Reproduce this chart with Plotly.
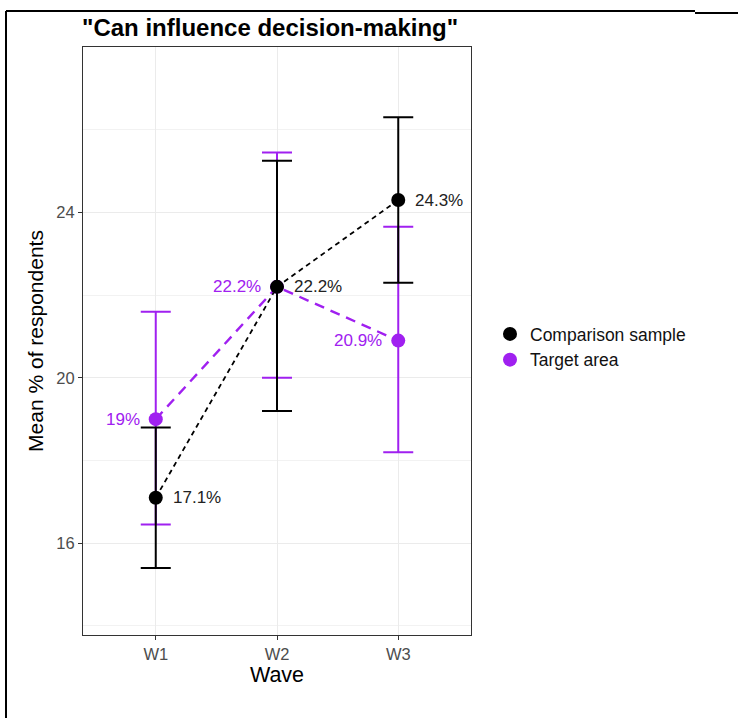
import plotly.graph_objects as go

waves = ["W1", "W2", "W3"]

comp_mean = [17.1, 22.2, 24.3]
comp_upper = [18.8, 25.25, 26.3]
comp_lower = [15.4, 19.2, 22.3]

target_mean = [19.0, 22.2, 20.9]
target_upper = [21.6, 25.45, 23.65]
target_lower = [16.45, 20.0, 18.2]

comp_labels = ["17.1%", "22.2%", "24.3%"]
target_labels = ["19%", "22.2%", "20.9%"]

BLACK = "#000000"
PURPLE = "#A020F0"
FONT = "Liberation Sans, Arial, sans-serif"

W, H = 738, 718
L, R, T, B = 83, 471, 47, 635  # plot panel in pixels


def px_x(x):
    return (x - L) / (R - L)


def px_y(y):
    return (B - y) / (B - T)


def err(mean, up, lo):
    return dict(
        type="data",
        symmetric=False,
        array=[u - m for u, m in zip(up, mean)],
        arrayminus=[m - l for m, l in zip(mean, lo)],
    )


fig = go.Figure()

# connecting dashed lines
fig.add_trace(go.Scatter(
    x=waves, y=target_mean, mode="lines", showlegend=False, hoverinfo="skip",
    line=dict(color=PURPLE, width=2.4, dash="10px,7px"),
))
fig.add_trace(go.Scatter(
    x=waves, y=comp_mean, mode="lines", showlegend=False, hoverinfo="skip",
    line=dict(color=BLACK, width=1.8, dash="5px,4px"),
))

# points with error bars
fig.add_trace(go.Scatter(
    x=waves, y=target_mean, mode="markers", showlegend=False,
    marker=dict(color=PURPLE, size=14),
    error_y=dict(err(target_mean, target_upper, target_lower), color=PURPLE, thickness=2, width=15),
))
fig.add_trace(go.Scatter(
    x=waves, y=comp_mean, mode="markers", showlegend=False,
    marker=dict(color=BLACK, size=14),
    error_y=dict(err(comp_mean, comp_upper, comp_lower), color=BLACK, thickness=2, width=15),
))

# value labels beside the points
annotations = []
for w, v, t in zip(waves, target_mean, target_labels):
    annotations.append(dict(
        x=w, y=v, xref="x", yref="y", text=t, showarrow=False,
        xanchor="right", yanchor="middle", xshift=-14,
        font=dict(color=PURPLE, size=17, family=FONT),
    ))
for w, v, t in zip(waves, comp_mean, comp_labels):
    annotations.append(dict(
        x=w, y=v, xref="x", yref="y", text=t, showarrow=False,
        xanchor="left", yanchor="middle", xshift=15,
        font=dict(color="#222222", size=17, family=FONT),
    ))

# legend entries
fig.add_trace(go.Scatter(
    x=[None], y=[None], mode="markers", name="Comparison sample",
    marker=dict(color=BLACK, size=14),
))
fig.add_trace(go.Scatter(
    x=[None], y=[None], mode="markers", name="Target area",
    marker=dict(color=PURPLE, size=14),
))

# frame lines around the figure
shapes = [
    dict(type="line", xref="paper", yref="paper",
         x0=px_x(6), x1=px_x(6), y0=px_y(11), y1=px_y(720),
         line=dict(color=BLACK, width=2)),
    dict(type="line", xref="paper", yref="paper",
         x0=px_x(6), x1=px_x(695), y0=px_y(11), y1=px_y(11),
         line=dict(color=BLACK, width=2)),
    dict(type="line", xref="paper", yref="paper",
         x0=px_x(695), x1=px_x(740), y0=px_y(13), y1=px_y(13),
         line=dict(color=BLACK, width=2)),
]

fig.update_layout(
    width=W, height=H,
    margin=dict(l=L, r=W - R, t=T, b=H - B),
    paper_bgcolor="white", plot_bgcolor="white",
    font=dict(family=FONT, size=16, color="#000000"),
    title=dict(
        text='<b>"Can influence decision-making"</b>',
        x=82 / W, xref="container", xanchor="left",
        y=1 - 28 / H, yref="container", yanchor="middle",
        font=dict(size=24, color="#000000", family=FONT),
    ),
    showlegend=True,
    legend=dict(
        x=px_x(490), y=px_y(347), xanchor="left", yanchor="middle",
        font=dict(size=17.5, color="#111111", family=FONT),
        bgcolor="rgba(0,0,0,0)", tracegroupgap=0,
    ),
    shapes=shapes,
    annotations=annotations,
)

fig.update_xaxes(
    type="category", range=[-0.6, 2.6],
    showline=True, mirror=True, linecolor="#333333", linewidth=1,
    showgrid=True, gridcolor="#EBEBEB", gridwidth=1,
    ticks="outside", ticklen=4, tickcolor="#333333",
    tickfont=dict(size=16.5, color="#4D4D4D"),
    title=dict(text="Wave", font=dict(size=21.5, color="#000000"), standoff=5),
    zeroline=False,
)
fig.update_yaxes(
    range=[13.78, 28.0],
    tickvals=[16, 20, 24],
    showline=True, mirror=True, linecolor="#333333", linewidth=1,
    showgrid=True, gridcolor="#EBEBEB", gridwidth=1,
    minor=dict(tickvals=[14, 18, 22, 26], showgrid=True, gridcolor="#F2F2F2", gridwidth=1),
    ticks="outside", ticklen=4, tickcolor="#333333",
    tickfont=dict(size=16.5, color="#4D4D4D"),
    title=dict(text="Mean % of respondents", font=dict(size=21, color="#000000"), standoff=6),
    zeroline=False,
)

fig.write_html("out.html")
